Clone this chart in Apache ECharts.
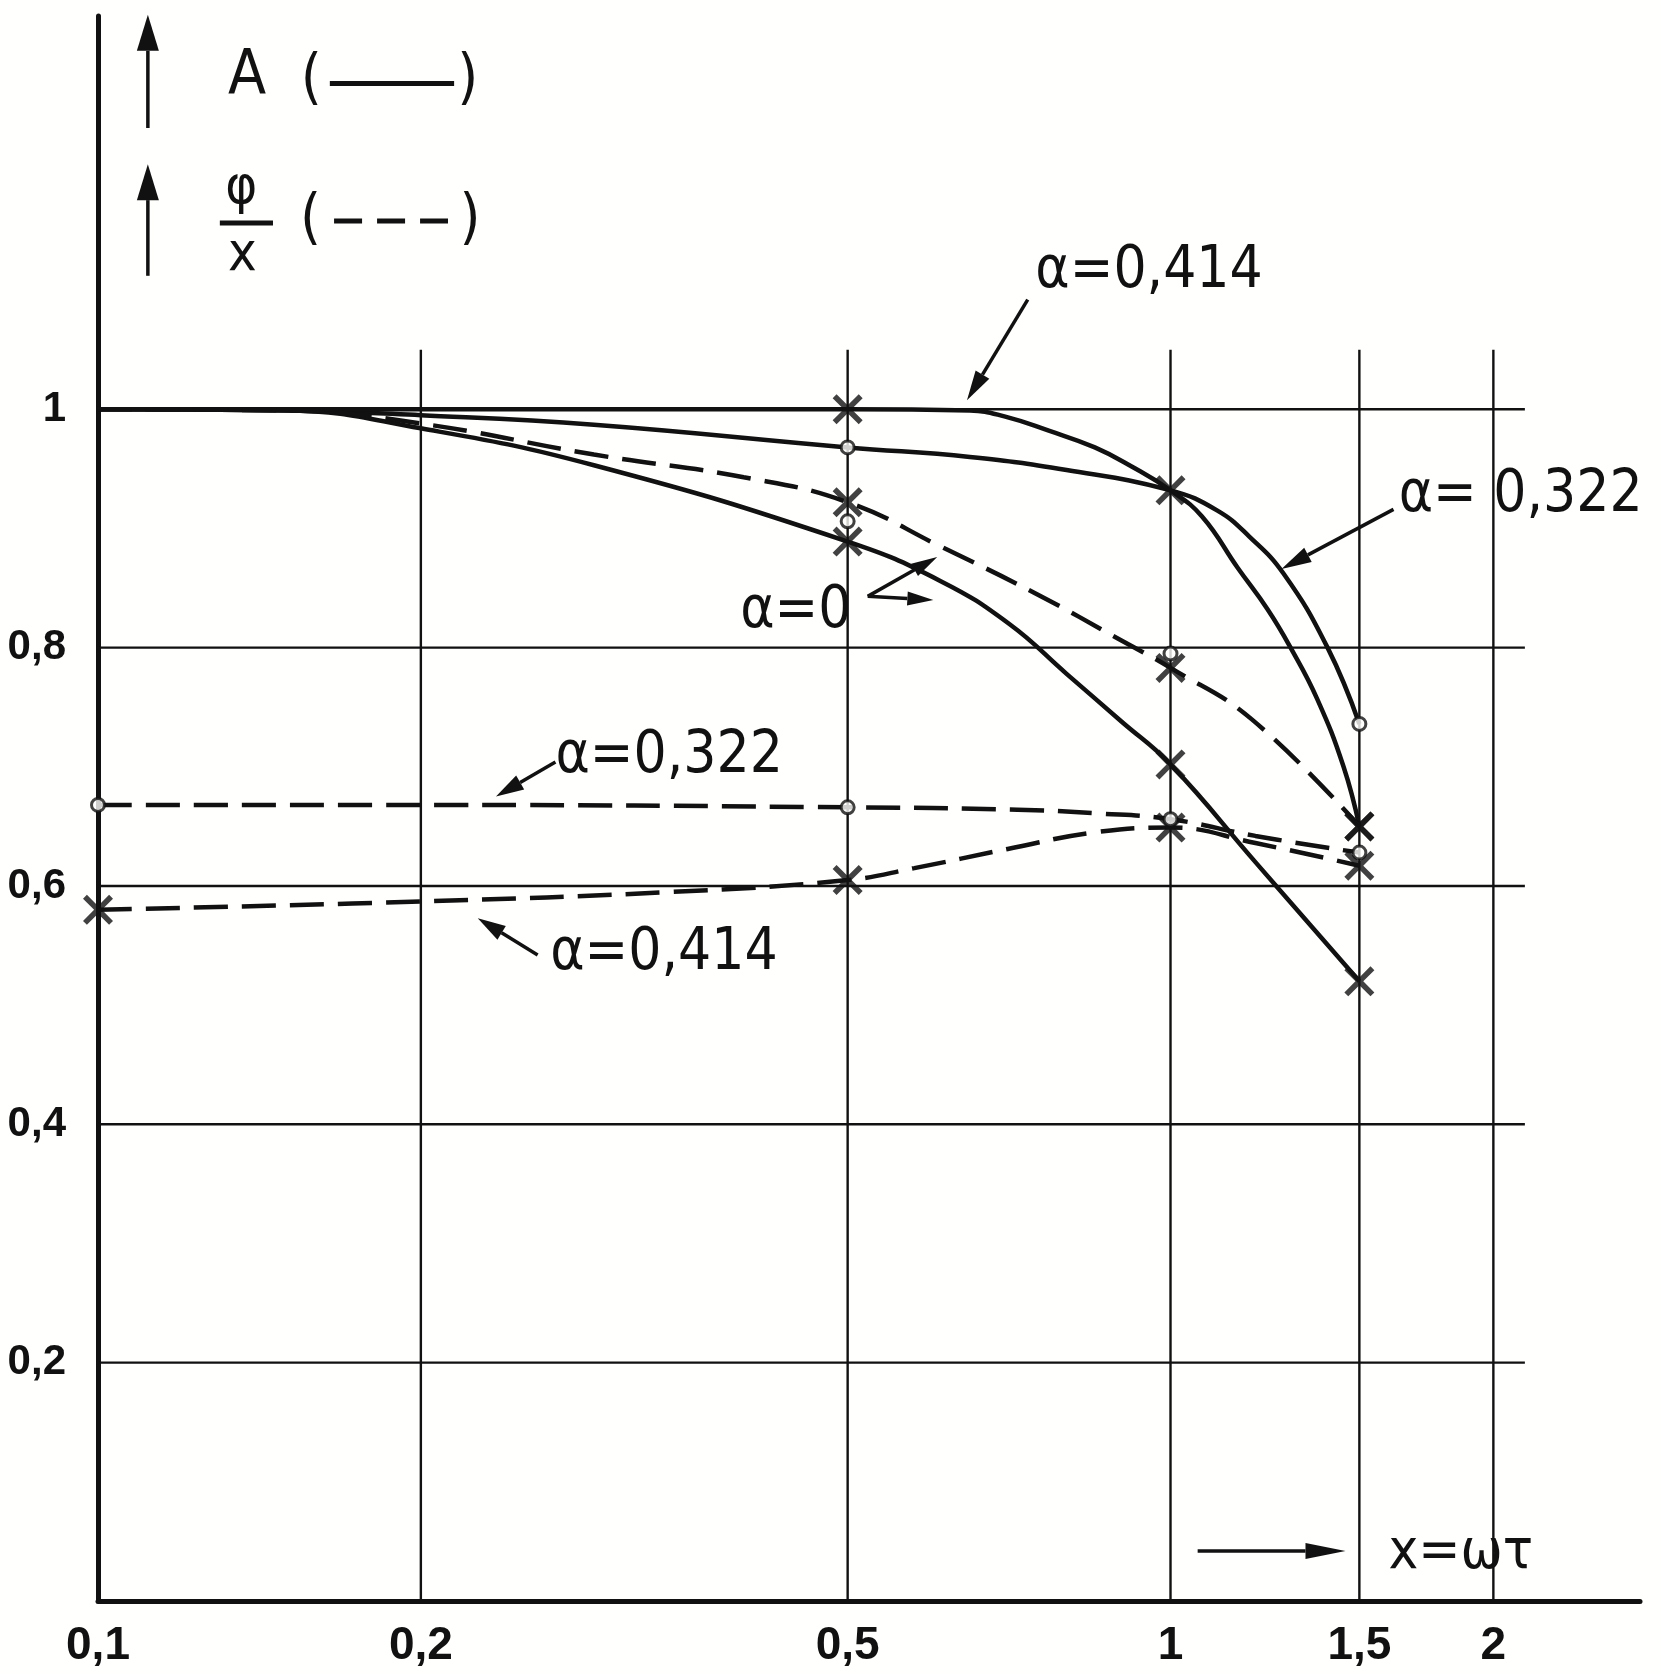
<!DOCTYPE html>
<html>
<head>
<meta charset="utf-8">
<title>A and φ/x over x=ωτ</title>
<script src="https://cdn.jsdelivr.net/npm/echarts@6.0.0/dist/echarts.min.js"></script>
<style>
html, body { margin: 0; padding: 0; background: #fffffd; }
#chart { width: 1661px; height: 1674px; }
</style>
</head>
<body>
<div id="chart"></div>
<script>
// x = ωτ on a log axis, A drawn solid, φ/x drawn dashed
const xTicks = [0.1, 0.2, 0.5, 1, 1.5, 2]
const yTicks = [0.2, 0.4, 0.6, 0.8, 1]

// grid lines stop short of the axis ends in the original
const gridX = [0.2, 0.5, 1, 1.5, 2]
const gridY = [0.2, 0.4, 0.6, 0.8, 1]
const gridTop = 1.05
const gridRight = 2.14

// A (solid)
const ampAlpha0 = [[0.1, 1.0], [0.15, 0.999], [0.2, 0.984], [0.29, 0.953], [0.5, 0.889], [0.61, 0.856], [0.707, 0.82], [0.8, 0.778], [0.9, 0.738], [1, 0.702], [1.2, 0.62], [1.5, 0.52]]
const ampAlpha0322 = [[0.1, 1.0], [0.15, 0.999], [0.2, 0.995], [0.29, 0.987], [0.5, 0.968], [0.65, 0.96], [0.8, 0.949], [1, 0.932], [1.106, 0.915], [1.185, 0.893], [1.275, 0.862], [1.401, 0.8], [1.5, 0.736]]
const ampAlpha0414 = [[0.1, 1.0], [0.2, 1.0], [0.5, 1.0], [0.65, 0.999], [0.7, 0.994], [0.77, 0.982], [0.85, 0.968], [0.92, 0.952], [1, 0.932], [1.07, 0.91], [1.155, 0.867], [1.232, 0.832], [1.294, 0.8], [1.37, 0.757], [1.45, 0.7], [1.5, 0.65]]

// φ/x (dashed)
const phaseAlpha0 = [[0.1, 1.0], [0.15, 0.999], [0.2, 0.988], [0.29, 0.962], [0.4, 0.943], [0.5, 0.922], [0.61, 0.885], [0.75, 0.845], [0.9, 0.806], [1, 0.783], [1.19, 0.74], [1.5, 0.65]]
const phaseAlpha0322 = [[0.1, 0.668], [0.2, 0.668], [0.5, 0.666], [0.72, 0.664], [0.85, 0.661], [1, 0.656], [1.2, 0.642], [1.5, 0.628]]
const phaseAlpha0414 = [[0.1, 0.58], [0.2, 0.587], [0.343, 0.595], [0.5, 0.605], [0.577, 0.615], [0.705, 0.631], [0.85, 0.645], [1, 0.649], [1.2, 0.636], [1.5, 0.617]]

// stray open circles at the α=0 points
const loneCircles = [[0.5, 0.906], [1, 0.795]]

// annotations, in data coordinates: [x1, y1, x2 (tip), y2 (tip)]
const arrowLines = [
	[0.736, 1.092, 0.646, 1.0075],
	[1.614, 0.916, 1.269, 0.866],
	[0.522, 0.843, 0.606, 0.876],
	[0.522, 0.843, 0.601, 0.840],
	[0.267, 0.704, 0.235, 0.675],
	[0.257, 0.542, 0.226, 0.573],
	[1.06, 0.042, 1.456, 0.042],
	[0.1113, 1.236, 0.1113, 1.331],
	[0.1113, 1.112, 0.1113, 1.2057]
]
const arrowHeads = [[30, 8], [30, 8], [26, 7], [26, 7], [28, 8], [28, 8], [40, 8], [36, 11], [36, 11]]

const noteText = ['α=0,414', 'α= 0,322', 'α=0', 'α=0,322', 'α=0,414', 'x=ωτ', 'A', '(', ')', 'φ', 'x', '(', ')']
const notePos = [[0.748, 1.115], [1.632, 0.927], [0.397, 0.830], [0.267, 0.708], [0.264, 0.543], [1.597, 0.040], [0.1322, 1.2784], [0.1545, 1.275], [0.2163, 1.275], [0.1314, 1.1848], [0.1322, 1.1288], [0.1543, 1.158], [0.2173, 1.158]]
const noteSize = [58, 58, 58, 58, 58, 56, 62, 60, 60, 54, 54, 60, 60]

// key strokes next to A and φ/x, last field 1 = dashed
const keyLines = [[0.1645, 1.2734, 0.2148, 1.2734, 0], [0.166, 1.158, 0.212, 1.158, 1], [0.1299, 1.1564, 0.1456, 1.1564, 0]]

const ink = '#111'
const font = '"DejaVu Sans Condensed", "DejaVu Sans", sans-serif'
const tickFont = '"Liberation Sans", Arial, sans-serif'
const crossPath = 'path://M0,2.6 L2.6,0 L10,7.4 L17.4,0 L20,2.6 L12.6,10 L20,17.4 L17.4,20 L10,12.6 L2.6,20 L0,17.4 L7.4,10 Z'

let curves = [
	{ data: ampAlpha0, dashed: false, cross: [0.5, 1, 1.5], circle: [] },
	{ data: ampAlpha0322, dashed: false, cross: [], circle: [0.5, 1.5] },
	{ data: ampAlpha0414, dashed: false, cross: [0.5, 1, 1.5], circle: [] },
	{ data: phaseAlpha0, dashed: true, cross: [0.5, 1, 1.5], circle: [] },
	{ data: phaseAlpha0322, dashed: true, cross: [], circle: [0.1, 0.5, 1, 1.5] },
	{ data: phaseAlpha0414, dashed: true, cross: [0.1, 0.5, 1, 1.5], circle: [] }
]

function commaNum(v) {
	return String(Math.round(v * 10) / 10).replace('.', ',')
}

let series = []

// grid lines
series.push({
	type: 'custom',
	silent: true,
	z: 1,
	data: gridX.map(v => [v, 0]),
	renderItem: function (params, api) {
		let p0 = api.coord([api.value(0), 0])
		let p1 = api.coord([api.value(0), gridTop])
		return { type: 'line', shape: { x1: p0[0], y1: p0[1], x2: p1[0], y2: p1[1] }, style: { stroke: ink, lineWidth: 2.4 } }
	}
})
series.push({
	type: 'custom',
	silent: true,
	z: 1,
	data: gridY.map(v => [0.1, v]),
	renderItem: function (params, api) {
		let p0 = api.coord([0.1, api.value(1)])
		let p1 = api.coord([gridRight, api.value(1)])
		return { type: 'line', shape: { x1: p0[0], y1: p0[1], x2: p1[0], y2: p1[1] }, style: { stroke: ink, lineWidth: 2.4 } }
	}
})

let crossData = [], circleData = loneCircles.slice()
for (let i = 0; i < curves.length; i++) {
	let c = curves[i]
	series.push({
		type: 'line',
		data: c.data,
		smooth: 0.45,
		showSymbol: false,
		symbol: 'none',
		silent: true,
		z: 3,
		lineStyle: { color: ink, width: 4.5, type: c.dashed ? [34, 14] : 'solid' }
	})
	for (let j = 0; j < c.data.length; j++) {
		if (c.cross.indexOf(c.data[j][0]) >= 0) crossData.push(c.data[j])
		if (c.circle.indexOf(c.data[j][0]) >= 0) circleData.push(c.data[j])
	}
}

series.push({
	type: 'scatter',
	data: crossData,
	symbol: crossPath,
	symbolSize: 30,
	silent: true,
	z: 4,
	itemStyle: { color: ink }
})
series.push({
	type: 'scatter',
	data: circleData,
	symbol: 'circle',
	symbolSize: 13,
	silent: true,
	z: 5,
	itemStyle: { color: '#fffffd', borderColor: ink, borderWidth: 3 }
})

// arrows
series.push({
	type: 'custom',
	silent: true,
	z: 6,
	encode: { x: [0, 2], y: [1, 3] },
	data: arrowLines,
	renderItem: function (params, api) {
		let p1 = api.coord([api.value(0), api.value(1)])
		let p2 = api.coord([api.value(2), api.value(3)])
		let h = arrowHeads[params.dataIndex]
		let dx = p2[0] - p1[0], dy = p2[1] - p1[1]
		let len = Math.sqrt(dx * dx + dy * dy)
		dx /= len; dy /= len
		let bx = p2[0] - dx * h[0], by = p2[1] - dy * h[0]
		let nx = -dy, ny = dx
		return {
			type: 'group',
			children: [
				{ type: 'line', shape: { x1: p1[0], y1: p1[1], x2: bx, y2: by }, style: { stroke: ink, lineWidth: 3.5 } },
				{ type: 'polygon', shape: { points: [p2, [bx + nx * h[1], by + ny * h[1]], [bx - nx * h[1], by - ny * h[1]]] }, style: { fill: ink } }
			]
		}
	}
})

// key strokes
series.push({
	type: 'custom',
	silent: true,
	z: 6,
	encode: { x: [0, 2], y: [1, 3] },
	data: keyLines,
	renderItem: function (params, api) {
		let p1 = api.coord([api.value(0), api.value(1)])
		let p2 = api.coord([api.value(2), api.value(3)])
		let dashed = api.value(4) === 1
		return {
			type: 'line',
			shape: { x1: p1[0], y1: p1[1], x2: p2[0], y2: p2[1] },
			style: { stroke: ink, lineWidth: 5, lineDash: dashed ? [28, 15] : null }
		}
	}
})

// text notes
series.push({
	type: 'custom',
	silent: true,
	z: 7,
	data: notePos,
	renderItem: function (params, api) {
		let p = api.coord([api.value(0), api.value(1)])
		let i = params.dataIndex
		return {
			type: 'text',
			x: p[0],
			y: p[1],
			style: {
				text: noteText[i],
				fill: ink,
				font: noteSize[i] + 'px ' + font,
				align: 'left',
				verticalAlign: 'middle'
			}
		}
	}
})

let myChart = echarts.init(document.getElementById('chart'))

let option = {
	backgroundColor: '#fffffd',
	animation: false,
	grid: { left: 98, right: 21, top: 16, bottom: 73, containLabel: false, outerBoundsMode: 'none' },
	xAxis: {
		type: 'log',
		logBase: 10,
		min: 0.1,
		max: 2.74,
		axisLine: { show: true, onZero: false, lineStyle: { color: ink, width: 5 } },
		axisTick: { show: false },
		splitLine: { show: false },
		minorSplitLine: { show: false },
		axisLabel: {
			customValues: xTicks,
			formatter: commaNum,
			fontFamily: tickFont,
			fontWeight: 'bold',
			fontSize: 46,
			color: ink,
			margin: 22
		}
	},
	yAxis: {
		type: 'value',
		min: 0,
		max: 1.33,
		axisLine: { show: true, onZero: false, lineStyle: { color: ink, width: 5 } },
		axisTick: { show: false },
		splitLine: { show: false },
		axisLabel: {
			customValues: yTicks,
			formatter: commaNum,
			fontFamily: tickFont,
			fontWeight: 'bold',
			fontSize: 42,
			color: ink,
			margin: 32
		}
	},
	series: series
}

myChart.setOption(option)
</script>
</body>
</html>
